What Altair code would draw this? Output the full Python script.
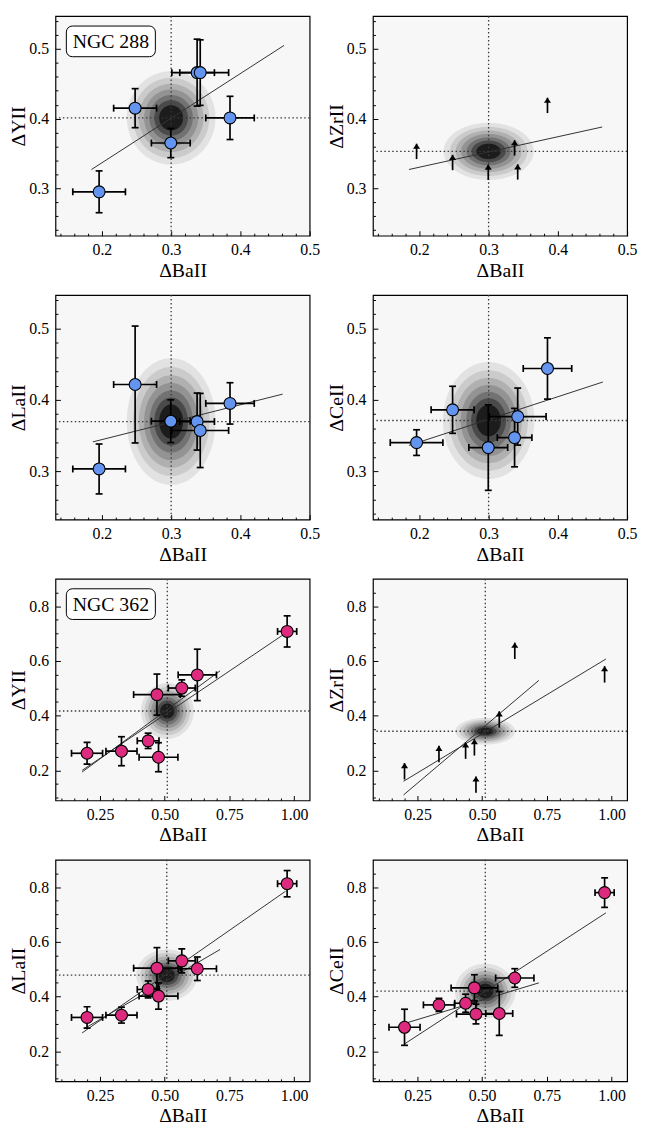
import math
import altair as alt
import pandas as pd

FONT = "Liberation Serif"
BLUE = "#6395F0"
PINK = "#DE2A7E"
BG = "#F7F7F7"
LINE = "#333333"

# ---------------- NGC 288 ----------------
ba288 = [0.196, 0.248, 0.2995, 0.3375, 0.342, 0.385]
ba288_err = [0.038, 0.031, 0.028, 0.025, 0.041, 0.035]
y288 = [0.295, 0.415, 0.365, 0.466, 0.466, 0.401]
y288_err = [0.030, 0.028, 0.021, 0.048, 0.047, 0.031]
zr288 = [0.342, 0.326, 0.312, 0.347, 0.3125, 0.408]      # lower limits
zr288_arrow = 0.022
la288 = [0.303, 0.4215, 0.370, 0.3695, 0.357, 0.395]
la288_err = [0.035, 0.082, 0.030, 0.040, 0.052, 0.029]
ce288 = [0.340, 0.386, 0.333, 0.347, 0.3765, 0.444]
ce288_err = [0.018, 0.033, 0.060, 0.041, 0.040, 0.043]

# fitted lines (x ends, y ends)
fit_y288 = [([0.185, 0.463], [0.327, 0.505])]
fit_zr288 = [([0.185, 0.464], [0.327, 0.388])]
fit_la288 = [([0.187, 0.461], [0.341, 0.408])]
fit_ce288 = [([0.185, 0.465], [0.336, 0.425])]

# mean point / gaussian contours: (cx, cy, a, b)
ell_y288 = (0.300, 0.401, 0.064, 0.067)
ell_zr288 = (0.300, 0.353, 0.065, 0.041)
ell_la288 = (0.300, 0.3695, 0.064, 0.089)
ell_ce288 = (0.300, 0.371, 0.066, 0.082)

# ---------------- NGC 362 ----------------
ba362 = [0.200, 0.333, 0.436, 0.470, 0.476, 0.566, 0.626, 0.973]
ba362_err = [0.060, 0.060, 0.042, 0.090, 0.075, 0.052, 0.074, 0.037]
y362 = [0.2625, 0.270, 0.308, 0.477, 0.248, 0.501, 0.549, 0.708]
y362_err = [0.040, 0.053, 0.028, 0.075, 0.053, 0.030, 0.094, 0.057]
zr362 = [0.1665, 0.230, 0.242, 0.254, 0.118, 0.356, 0.607, 0.521]   # lower limits
zr362_arrow = 0.06
la362 = [0.3236, 0.332, 0.426, 0.5038, 0.4018, 0.5304, 0.5016, 0.8126]
la362_err = [0.039, 0.029, 0.031, 0.075, 0.048, 0.044, 0.043, 0.048]
ce362 = [0.2876, 0.3694, 0.3755, 0.4317, 0.336, 0.338, 0.4678, 0.780]
ce362_err = [0.066, 0.024, 0.033, 0.048, 0.036, 0.080, 0.034, 0.054]

fit_y362 = [([0.181, 0.963], [0.200, 0.699]), ([0.181, 0.714], [0.194, 0.564])]
fit_zr362 = [([0.196, 0.978], [0.160, 0.607]), ([0.196, 0.719], [0.110, 0.529])]
fit_la362 = [([0.181, 0.967], [0.267, 0.785]), ([0.190, 0.714], [0.283, 0.572])]
fit_ce362 = [([0.202, 0.978], [0.228, 0.706]), ([0.202, 0.719], [0.302, 0.450])]

ell_y362 = (0.510, 0.417, 0.102, 0.102)
ell_zr362 = (0.512, 0.343, 0.115, 0.049)
ell_la362 = (0.508, 0.478, 0.118, 0.094)
ell_ce362 = (0.512, 0.420, 0.117, 0.100)

# contour levels (fraction of outer radius) and grey shades
LEVEL_FRAC = [1.0, 0.86, 0.73, 0.61, 0.49, 0.38, 0.27]
LEVEL_COL = ["#e2e2e2", "#cbcbcb", "#b0b0b0", "#939393", "#727272", "#4a4a4a", "#1c1c1c"]

# axes
x288_major = [0.2, 0.3, 0.4, 0.5]
x288_minor = [0.14, 0.16, 0.18, 0.22, 0.24, 0.26, 0.28, 0.32, 0.34, 0.36, 0.38, 0.42, 0.44, 0.46, 0.48]
y288_major = [0.3, 0.4, 0.5]
y288_minor = [0.24, 0.26, 0.28, 0.32, 0.34, 0.36, 0.38, 0.42, 0.44, 0.46, 0.48, 0.52, 0.54]
x362_major = [0.25, 0.5, 0.75, 1.0]
x362_minor = [0.1, 0.15, 0.2, 0.3, 0.35, 0.4, 0.45, 0.55, 0.6, 0.65, 0.7, 0.8, 0.85, 0.9, 0.95]
y362_major = [0.2, 0.4, 0.6, 0.8]
y362_minor = [0.1, 0.15, 0.25, 0.3, 0.35, 0.45, 0.5, 0.55, 0.65, 0.7, 0.75, 0.85]

xdom288, ydom288 = [0.133, 0.5], [0.232, 0.547]
xdom362, ydom362 = [0.078, 1.06], [0.09, 0.90]

W = 257
ROW_H = [222, 227, 224, 224]


def ellipse_df(e, n=72):
    cx, cy, a, b = e
    rows = []
    for k, f in enumerate(LEVEL_FRAC):
        for i in range(n + 1):
            t = math.pi * i / n
            rows.append({"lvl": k, "x": cx + f * a * math.cos(t),
                         "y1": cy + f * b * math.sin(t), "y2": cy - f * b * math.sin(t)})
    return pd.DataFrame(rows)


def panel(xv, xe, yv, ye, ell, fits, xdom, ydom, xmaj, xmin, ymaj, ymin, xfmt, yfmt,
          ytitle, color, w, h, label=None, arrow=None):
    xs = alt.Scale(domain=xdom, nice=False, zero=False)
    ys = alt.Scale(domain=ydom, nice=False, zero=False)

    def X(f, axis=None):
        return alt.X(f, type="quantitative", scale=xs, axis=axis)

    def Y(f, axis=None):
        return alt.Y(f, type="quantitative", scale=ys, axis=axis)

    layers = []
    edf = ellipse_df(ell)
    for k, col in enumerate(LEVEL_COL):
        layers.append(
            alt.Chart(edf).transform_filter(alt.datum.lvl == k)
            .mark_area(color=col, opacity=1, interpolate="linear")
            .encode(x=X("x"), y=Y("y1"), y2="y2")
        )
    cen = pd.DataFrame({"x": [ell[0]], "y": [ell[1]]})
    dot = dict(color="#3a3a3a", strokeDash=[1.5, 2.5], strokeWidth=1.3)
    layers.append(alt.Chart(cen).mark_rule(**dot).encode(x=X("x")))
    layers.append(alt.Chart(cen).mark_rule(**dot).encode(y=Y("y")))

    frows = []
    for i, (fx, fy) in enumerate(fits):
        for a, b in zip(fx, fy):
            frows.append({"id": i, "x": a, "y": b})
    layers.append(alt.Chart(pd.DataFrame(frows)).mark_line(color=LINE, strokeWidth=1)
                  .encode(x=X("x"), y=Y("y"), detail="id:N"))

    if arrow is None:
        df = pd.DataFrame({"x": xv, "y": yv,
                           "xlo": [a - b for a, b in zip(xv, xe)], "xhi": [a + b for a, b in zip(xv, xe)],
                           "ylo": [a - b for a, b in zip(yv, ye)], "yhi": [a + b for a, b in zip(yv, ye)]})
        base = alt.Chart(df)
        eb = dict(color="black", strokeWidth=1.7)
        layers.append(base.mark_rule(**eb).encode(x=X("xlo"), x2="xhi", y=Y("y")))
        layers.append(base.mark_rule(**eb).encode(x=X("x"), y=Y("ylo"), y2="yhi"))
        cap = dict(color="black", size=7, thickness=1.7, opacity=1)
        layers.append(base.mark_tick(orient="vertical", **cap).encode(x=X("xlo"), y=Y("y")))
        layers.append(base.mark_tick(orient="vertical", **cap).encode(x=X("xhi"), y=Y("y")))
        layers.append(base.mark_tick(orient="horizontal", **cap).encode(x=X("x"), y=Y("ylo")))
        layers.append(base.mark_tick(orient="horizontal", **cap).encode(x=X("x"), y=Y("yhi")))
        layers.append(base.mark_point(shape="circle", filled=True, fill=color, stroke="black",
                                      strokeWidth=1.1, size=145, opacity=1)
                      .encode(x=X("x"), y=Y("y")))
    else:
        df = pd.DataFrame({"x": xv, "y": yv, "tip": [v + arrow for v in yv]})
        base = alt.Chart(df)
        layers.append(base.mark_rule(color="black", strokeWidth=1.7).encode(x=X("x"), y=Y("y"), y2="tip"))
        layers.append(base.mark_point(shape="M -0.9 0.65 L 0 -0.65 L 0.9 0.65 Z", filled=True,
                                      color="black", size=64, opacity=1, yOffset=2.6)
                      .encode(x=X("x"), y=Y("tip")))

    if label is not None:
        ldf = pd.DataFrame({"t": [label]})
        layers.append(alt.Chart(ldf).mark_rect(fill="white", stroke="black", strokeWidth=1,
                                               cornerRadius=6)
                      .encode(x=alt.value(11), x2=alt.value(101), y=alt.value(10), y2=alt.value(41)))
        layers.append(alt.Chart(ldf).mark_text(font=FONT, fontSize=20, color="black",
                                               align="center", baseline="middle")
                      .encode(text="t:N", x=alt.value(56), y=alt.value(26)))

    # axis carriers
    lab_x = alt.Axis(values=xmaj, format=xfmt, title="ΔBaII", orient="bottom", ticks=False,
                     domain=False, grid=False, labelPadding=6, labelFlush=False, labelOverlap=False,
                     titlePadding=3, labelFont=FONT, titleFont=FONT, labelFontSize=16,
                     titleFontSize=20, titleFontWeight="normal", labelColor="black",
                     titleColor="black")
    lab_y = alt.Axis(values=ymaj, format=yfmt, title=ytitle, orient="left", ticks=False,
                     domain=False, grid=False, labelPadding=7, labelFlush=False, labelOverlap=False,
                     titlePadding=0, labelFont=FONT, titleFont=FONT, labelFontSize=16,
                     titleFontSize=20, titleFontWeight="normal", labelColor="black",
                     titleColor="black")

    def tick_axis(orient, vals, size):
        return alt.Axis(values=vals, orient=orient, labels=False, domain=False, grid=False,
                        ticks=True, tickSize=size, offset=-size, title=None,
                        tickColor="black", tickWidth=1)

    for ax_x, ax_y in [(lab_x, lab_y),
                       (tick_axis("bottom", xmaj, 5), tick_axis("left", ymaj, 5)),
                       (tick_axis("bottom", xmin, 2.5), tick_axis("left", ymin, 2.5))]:
        layers.append(alt.Chart(cen).mark_point(opacity=0).encode(x=X("x", ax_x), y=Y("y", ax_y)))

    return alt.layer(*layers).resolve_axis(x="independent", y="independent").properties(width=w, height=h)


c288 = dict(xdom=xdom288, ydom=ydom288, xmaj=x288_major, xmin=x288_minor, ymaj=y288_major,
            ymin=y288_minor, xfmt=".1f", yfmt=".1f", color=BLUE, w=W)
c362 = dict(xdom=xdom362, ydom=ydom362, xmaj=x362_major, xmin=x362_minor, ymaj=y362_major,
            ymin=y362_minor, xfmt=".2f", yfmt=".1f", color=PINK, w=W)

p1 = panel(ba288, ba288_err, y288, y288_err, ell_y288, fit_y288, ytitle="ΔYII", label="NGC 288", h=ROW_H[0], **c288)
p2 = panel(ba288, ba288_err, zr288, None, ell_zr288, fit_zr288, ytitle="ΔZrII", arrow=zr288_arrow, h=ROW_H[0], **c288)
p3 = panel(ba288, ba288_err, la288, la288_err, ell_la288, fit_la288, ytitle="ΔLaII", h=ROW_H[1], **c288)
p4 = panel(ba288, ba288_err, ce288, ce288_err, ell_ce288, fit_ce288, ytitle="ΔCeII", h=ROW_H[1], **c288)

p5 = panel(ba362, ba362_err, y362, y362_err, ell_y362, fit_y362, ytitle="ΔYII", label="NGC 362", h=ROW_H[2], **c362)
p6 = panel(ba362, ba362_err, zr362, None, ell_zr362, fit_zr362, ytitle="ΔZrII", arrow=zr362_arrow, h=ROW_H[2], **c362)
p7 = panel(ba362, ba362_err, la362, la362_err, ell_la362, fit_la362, ytitle="ΔLaII", h=ROW_H[3], **c362)
p8 = panel(ba362, ba362_err, ce362, ce362_err, ell_ce362, fit_ce362, ytitle="ΔCeII", h=ROW_H[3], **c362)

chart = (
    alt.concat(p1, p2, p3, p4, p5, p6, p7, p8, columns=2,
               spacing={"row": 60, "column": 64}, bounds="flush")
    .properties(padding=0)
    .configure(font=FONT, background="white")
    .configure_view(fill=BG, stroke="black", strokeWidth=1.2)
)

chart.save("out.html", embed_options={"renderer": "svg", "actions": False})
